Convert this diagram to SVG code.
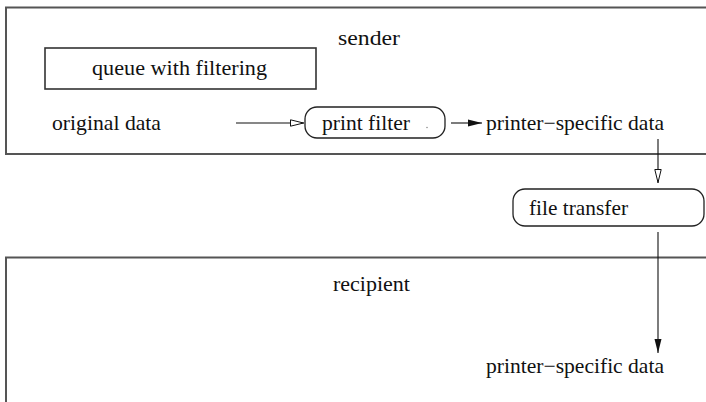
<svg xmlns="http://www.w3.org/2000/svg" width="706" height="402" viewBox="0 0 706 402">
  <defs>
    <style>
      .region { fill: none; stroke: #555; stroke-width: 2; }
      .box { fill: #fff; stroke: #222; stroke-width: 1.3; }
      .conn { fill: none; stroke: #111; stroke-width: 1.1; }
      text.lbl { font-family: 'Liberation Serif', 'DejaVu Serif', serif; font-size: 21px; fill: #111; }
    </style>
    <marker id="open-head" viewBox="0 0 14 8" refX="14" refY="4" markerWidth="14" markerHeight="8" markerUnits="userSpaceOnUse" orient="auto">
      <path d="M0.5,0.8 L13.5,4 L0.5,7.2 Z" fill="#fff" stroke="#111" stroke-width="1"/>
    </marker>
    <marker id="solid-head" viewBox="0 0 14 8" refX="14" refY="4" markerWidth="14" markerHeight="8" markerUnits="userSpaceOnUse" orient="auto">
      <path d="M0,0.5 L14,4 L0,7.5 Z" fill="#111"/>
    </marker>
  </defs>

  <!-- sender region -->
  <g id="sender">
    <rect class="region" x="6" y="7.5" width="730" height="146.5"/>
    <text class="lbl" x="338" y="45" textLength="62" lengthAdjust="spacingAndGlyphs">sender</text>
  </g>

  <!-- recipient region -->
  <g id="recipient">
    <rect class="region" x="6" y="257.5" width="730" height="170"/>
    <text class="lbl" x="333" y="291" textLength="77" lengthAdjust="spacingAndGlyphs">recipient</text>
  </g>

  <g id="queue">
    <rect class="box" x="45" y="48" width="271" height="41" style="stroke:#333;stroke-width:1.6"/>
    <text class="lbl" x="92" y="75" textLength="175" lengthAdjust="spacingAndGlyphs">queue with filtering</text>
  </g>

  <g id="original-data">
    <text class="lbl" x="52" y="130" textLength="109" lengthAdjust="spacingAndGlyphs">original data</text>
  </g>

  <g id="print-filter">
    <rect class="box" x="305" y="107" width="140" height="31" rx="12" ry="12"/>
    <text class="lbl" x="322" y="130" textLength="88" lengthAdjust="spacingAndGlyphs">print filter</text>
    <circle cx="427" cy="127.5" r="0.7" fill="#777"/>
  </g>

  <g id="sender-output">
    <text class="lbl" x="486" y="130" textLength="178" lengthAdjust="spacingAndGlyphs">printer−specific data</text>
  </g>

  <g id="file-transfer">
    <rect class="box" x="513" y="189" width="191" height="37" rx="12" ry="12"/>
    <text class="lbl" x="529" y="215" textLength="99" lengthAdjust="spacingAndGlyphs">file transfer</text>
  </g>

  <g id="recipient-output">
    <text class="lbl" x="486" y="373" textLength="178" lengthAdjust="spacingAndGlyphs">printer−specific data</text>
  </g>

  <!-- connectors -->
  <g id="connectors">
    <line class="conn" x1="236" y1="123" x2="304" y2="123" marker-end="url(#open-head)"/>
    <line class="conn" x1="451" y1="123" x2="482" y2="123" marker-end="url(#solid-head)"/>
    <line class="conn" x1="658" y1="139" x2="658" y2="183" marker-end="url(#open-head)"/>
    <line class="conn" x1="658" y1="232" x2="658" y2="353" marker-end="url(#solid-head)"/>
  </g>
</svg>
